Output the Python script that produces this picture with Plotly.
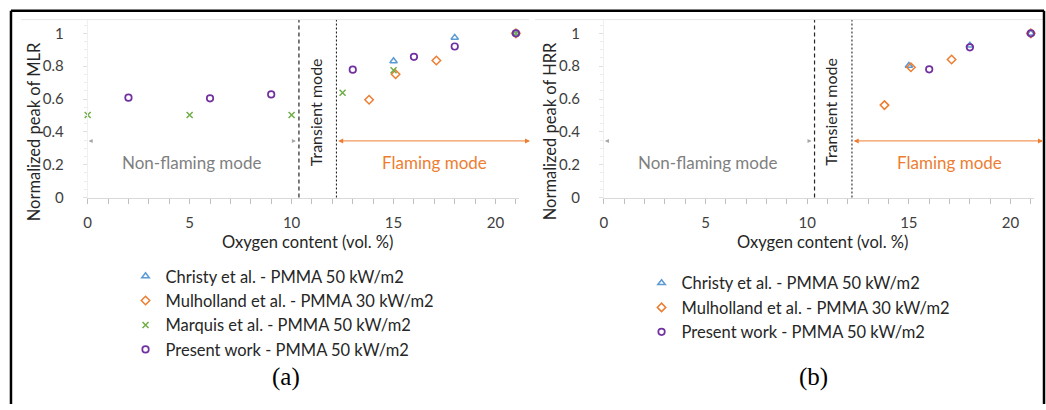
import plotly.graph_objects as go

W, H = 1046, 410

# ---------------- data ----------------
mlr_christy_x = [15, 18, 21]
mlr_christy_y = [0.831, 0.974, 1.0]
mlr_mulholland_x = [13.8, 15.1, 17.1, 21]
mlr_mulholland_y = [0.596, 0.751, 0.835, 1.0]
mlr_marquis_x = [0, 5, 10, 12.5, 15, 21]
mlr_marquis_y = [0.503, 0.503, 0.503, 0.638, 0.775, 1.0]
mlr_present_x = [2, 6, 9, 13, 16, 18, 21]
mlr_present_y = [0.608, 0.604, 0.628, 0.779, 0.857, 0.920, 1.0]

hrr_christy_x = [15, 18, 21]
hrr_christy_y = [0.803, 0.926, 1.0]
hrr_mulholland_x = [13.8, 15.1, 17.1, 21]
hrr_mulholland_y = [0.563, 0.793, 0.841, 1.0]
hrr_present_x = [16, 18, 21]
hrr_present_y = [0.781, 0.915, 1.0]

x_ticks = [0, 5, 10, 15, 20]
transient_start = 10.36
flaming_start = 12.2

names = {
    "christy": "Christy et al. - PMMA 50 kW/m2",
    "mulholland": "Mulholland et al. - PMMA 30 kW/m2",
    "marquis": "Marquis et al. - PMMA 50 kW/m2",
    "present": "Present work - PMMA 50 kW/m2",
}

# ---------------- styles ----------------
FONT = "Lato"
TXT = "#404040"
DARK = "#262626"
BLUE, ORANGE, GREEN, PURPLE = "#5B9BD5", "#ED7D31", "#70AD47", "#7030A0"
styles = {
    "christy": dict(symbol="triangle-up-open", size=6.5, color=BLUE, line=dict(color=BLUE, width=1.5)),
    "mulholland": dict(symbol="diamond-open", size=6.5, color=ORANGE, line=dict(color=ORANGE, width=1.5)),
    "marquis": dict(symbol="x-thin", size=6, color=GREEN, line=dict(color=GREEN, width=1.5)),
    "present": dict(symbol="circle-open", size=6.5, color=PURPLE, line=dict(color=PURPLE, width=1.7)),
}


def px_x(p):
    return p / W


def px_y(p):
    return 1 - p / H


fig = go.Figure()

left_series = [
    ("christy", mlr_christy_x, mlr_christy_y),
    ("mulholland", mlr_mulholland_x, mlr_mulholland_y),
    ("marquis", mlr_marquis_x, mlr_marquis_y),
    ("present", mlr_present_x, mlr_present_y),
]
right_series = [
    ("christy", hrr_christy_x, hrr_christy_y),
    ("mulholland", hrr_mulholland_x, hrr_mulholland_y),
    ("present", hrr_present_x, hrr_present_y),
]

for key, xs, ys in left_series:
    fig.add_trace(go.Scatter(x=xs, y=ys, mode="markers", name=names[key], marker=styles[key],
                             xaxis="x", yaxis="y", legend="legend", legendgroup="L" + key,
                             cliponaxis=False))
for key, xs, ys in right_series:
    fig.add_trace(go.Scatter(x=xs, y=ys, mode="markers", name=names[key], marker=styles[key],
                             xaxis="x2", yaxis="y2", legend="legend2", legendgroup="R" + key,
                             cliponaxis=False))

XR = [0, 21.15]
YR = [0, 1.0836]
ydom = [px_y(201.5), px_y(20)]
LEFT_PX = (84, 84 + 21.15 * 20.47)
RIGHT_PX = (602.2, 602.2 + 21.15 * 20.41)


def xaxis_def(dom, anchor):
    return dict(domain=dom, range=XR, anchor=anchor, tickvals=x_ticks, showgrid=False, zeroline=False,
                showline=True, linecolor="#D9D9D9", linewidth=1,
                ticks="outside", ticklen=5, tickcolor="#BFBFBF",
                minor=dict(dtick=1, tick0=0, ticks="outside", ticklen=5, tickcolor="#BFBFBF"),
                tickfont=dict(family=FONT, size=15, color=TXT), ticklabelstandoff=6)


def yaxis_def(anchor):
    return dict(domain=ydom, range=YR, anchor=anchor, dtick=0.2, tick0=0, showgrid=False, zeroline=False,
                showline=True, linecolor="#F0F0F0", linewidth=1,
                ticks="outside", ticklen=4, tickcolor="#E0E0E0",
                minor=dict(dtick=0.05, ticks="outside", ticklen=3, tickcolor="#EBEBEB"),
                tickfont=dict(family=FONT, size=15, color=TXT), ticklabelstandoff=16)


legend_common = dict(xanchor="left", yanchor="top", traceorder="grouped", tracegroupgap=0,
                     font=dict(family=FONT, size=16.5, color=DARK), bgcolor="rgba(0,0,0,0)",
                     itemwidth=30, borderwidth=0)

fig.update_layout(
    width=W, height=H, margin=dict(l=0, r=0, t=0, b=0, pad=0),
    paper_bgcolor="white", plot_bgcolor="white",
    xaxis=xaxis_def([px_x(LEFT_PX[0]), px_x(LEFT_PX[1])], "y"),
    yaxis=yaxis_def("x"),
    xaxis2=xaxis_def([px_x(RIGHT_PX[0]), px_x(RIGHT_PX[1])], "y2"),
    yaxis2=yaxis_def("x2"),
    showlegend=True,
    legend=dict(x=px_x(122), y=px_y(264), **legend_common),
    legend2=dict(x=px_x(640), y=px_y(271), **legend_common),
)

shapes = []
annotations = []
panels = [("x", "y", LEFT_PX, 528, "MLR", 31, 305, "(a)", 283),
          ("x2", "y2", RIGHT_PX, 1043, "HRR", 548, 822, "(b)", 813)]
for xa, ya, (x0p, x1p), arrow_end, qty, ytx, xtx, lab, labx in panels:
    # mode boundaries
    shapes.append(dict(type="line", xref=xa, yref=ya + " domain", x0=transient_start, x1=transient_start,
                       y0=0, y1=1, line=dict(color=DARK, width=1.2, dash="4px,3px")))
    shapes.append(dict(type="line", xref=xa, yref=ya + " domain", x0=flaming_start, x1=flaming_start,
                       y0=0, y1=1, line=dict(color=DARK, width=1.1, dash="2px,2px")))
    scale = (x1p - x0p) / (XR[1] - XR[0])
    fl_px = x0p + flaming_start * scale
    arrow_y = 0.345
    # flaming mode double arrow (runs to the panel edge)
    annotations.append(dict(xref="paper", yref=ya, x=px_x(arrow_end), y=arrow_y,
                            ax=-(arrow_end - fl_px - 1), ay=0,
                            axref="pixel", ayref="pixel", text="", showarrow=True,
                            arrowhead=2, startarrowhead=2, arrowside="end+start", arrowsize=1,
                            arrowwidth=1, arrowcolor=ORANGE))
    # non-flaming faint arrow heads
    annotations.append(dict(xref=xa, yref=ya, x=0.05, y=arrow_y, ax=4, ay=0, axref="pixel", ayref="pixel",
                            text="", showarrow=True, arrowhead=2, arrowsize=0.8, arrowwidth=1,
                            arrowcolor="#A6A6A6"))
    annotations.append(dict(xref=xa, yref=ya, x=transient_start - 0.15, y=arrow_y, ax=-4, ay=0,
                            axref="pixel", ayref="pixel",
                            text="", showarrow=True, arrowhead=2, arrowsize=0.8, arrowwidth=1,
                            arrowcolor="#A6A6A6"))
    # mode labels
    annotations.append(dict(xref=xa, yref=ya, x=5.13, y=0.215, text="Non-flaming mode", showarrow=False,
                            xanchor="center", yanchor="middle",
                            font=dict(family=FONT, size=17, color="#7F7F7F")))
    annotations.append(dict(xref=xa, yref=ya, x=17.02, y=0.215, text="Flaming mode", showarrow=False,
                            xanchor="center", yanchor="middle",
                            font=dict(family=FONT, size=17, color=ORANGE)))
    annotations.append(dict(xref=xa, yref=ya, x=11.15, y=0.52,
                            text="Transient mode", showarrow=False, textangle=-90,
                            xanchor="center", yanchor="middle",
                            font=dict(family=FONT, size=16, color=DARK)))
    # axis titles
    annotations.append(dict(xref="paper", yref="paper", x=px_x(ytx), y=px_y(134),
                            text="Normalized peak of " + qty, showarrow=False, textangle=-90,
                            xanchor="center", yanchor="middle",
                            font=dict(family=FONT, size=16.5, color=DARK)))
    annotations.append(dict(xref="paper", yref="paper", x=px_x(xtx), y=px_y(246.5),
                            text="Oxygen content (vol. %)", showarrow=False,
                            xanchor="center", yanchor="middle",
                            font=dict(family=FONT, size=16.5, color=DARK)))
    annotations.append(dict(xref="paper", yref="paper", x=px_x(labx), y=px_y(384), text=lab,
                            showarrow=False, xanchor="center", yanchor="middle",
                            font=dict(family="Liberation Serif", size=25, color="black")))

# chart-area top borders (faint)
shapes.append(dict(type="line", xref="paper", yref="paper", x0=px_x(17), x1=px_x(527), y0=px_y(20),
                   y1=px_y(20), line=dict(color="#E6E6E6", width=1)))
shapes.append(dict(type="line", xref="paper", yref="paper", x0=px_x(533), x1=px_x(1043), y0=px_y(20),
                   y1=px_y(20), line=dict(color="#E6E6E6", width=1)))
# black outer frame
for (a, b, c, d) in [(7, 11, 1044, 11), (7, 11, 7, 412), (1044, 11, 1044, 412)]:
    shapes.append(dict(type="line", xref="paper", yref="paper", x0=px_x(a), x1=px_x(c), y0=px_y(b),
                       y1=px_y(d), line=dict(color="black", width=2.5)))

fig.update_layout(shapes=shapes, annotations=annotations)
fig.write_html("out.html", config={"displayModeBar": False},
               post_script="document.body.style.margin='0';document.body.style.overflow='hidden';")
